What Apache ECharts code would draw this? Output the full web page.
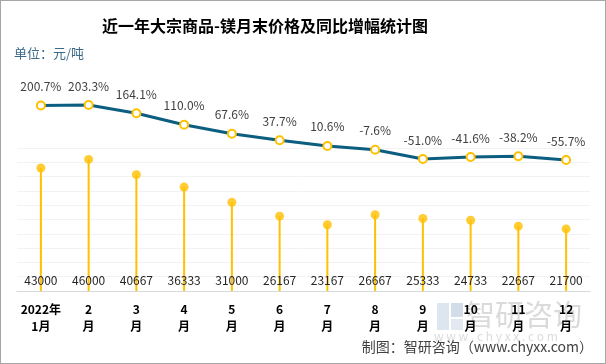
<!DOCTYPE html>
<html><head><meta charset="utf-8">
<script src="https://cdn.jsdelivr.net/npm/echarts@6/dist/echarts.min.js"></script>
<style>html,body{margin:0;padding:0;background:#fff}#c{width:606px;height:364px;box-sizing:border-box;border:1px solid #a6a6a6}</style>
</head><body><div id="c"></div><script>
const categories = ['2022年\n1月','2\n月','3\n月','4\n月','5\n月','6\n月','7\n月','8\n月','9\n月','10\n月','11\n月','12\n月'];
const prices = [43000,46000,40667,36333,31000,26167,23167,26667,25333,24733,22667,21700];
const growth = [200.7,203.3,164.1,110.0,67.6,37.7,10.6,-7.6,-51.0,-41.6,-38.2,-55.7];
const priceAxisMax = 50000, priceAxisInterval = 5000;

const FONT = '"Noto Sans CJK SC","Noto Sans",sans-serif';
const chart = echarts.init(document.getElementById('c'));
chart.setOption({
  animation: false,
  textStyle: {fontFamily: FONT},
  title: {
    text: '近一年大宗商品-镁月末价格及同比增幅统计图',
    left: 96, top: 12,
    textStyle: {fontSize: 16, fontWeight: 'bold', color: '#000', fontFamily: FONT}
  },
  graphic: [
    {type: 'text', left: 13, top: 46, style: {text: '单位：元/吨', fontSize: 13, fill: '#3a6a88', fontFamily: FONT}},
    {type: 'rect', shape: {x: 436, y: 302, width: 12, height: 27}, style: {fill: '#dde5ee'}, z: 0},
    {type: 'rect', shape: {x: 450, y: 302, width: 12, height: 14}, style: {fill: '#d3dde8'}, z: 0},
    {type: 'rect', shape: {x: 450, y: 318, width: 12, height: 11}, style: {fill: '#e3e9f0'}, z: 0},
    {type: 'text', left: 465, top: 299, z: 0, style: {text: '智研咨询', fontSize: 29, fill: '#dadada', fontFamily: FONT}},
    {type: 'text', left: 433, top: 329, z: 0, style: {text: 'w w w . c h y x x . c o m', fontSize: 12, fill: '#dcdcdc', fontFamily: FONT}},
    {type: 'text', right: 12, top: 339, style: {text: '制图：智研咨询（www.chyxx.com）', fontSize: 14, fill: '#404040', fontFamily: FONT}}
  ],
  grid: [
    {left: 16, right: 15, top: 147, bottom: 72},
    {left: 16, right: 15, top: 104, bottom: 203}
  ],
  xAxis: [
    {type: 'category', gridIndex: 0, data: categories,
      axisLine: {lineStyle: {color: '#d9d9d9', width: 1}}, axisTick: {show: false},
      axisLabel: {interval: 0, margin: 10, fontSize: 12, fontWeight: 'bold', color: '#000', lineHeight: 17, fontFamily: FONT}},
    {type: 'category', gridIndex: 1, data: categories, show: false}
  ],
  yAxis: [
    {type: 'value', gridIndex: 0, min: 0, max: priceAxisMax, interval: priceAxisInterval,
      axisLabel: {show: false}, axisLine: {show: false}, axisTick: {show: false},
      splitLine: {lineStyle: {color: '#f2f2f2', width: 1}}},
    {type: 'value', gridIndex: 1, min: 'dataMin', max: 'dataMax', show: false, splitLine: {show: false}}
  ],
  series: [
    {type: 'bar', xAxisIndex: 0, yAxisIndex: 0, data: prices, barWidth: 2,
      itemStyle: {color: '#FFC000'},
      label: {show: true, position: 'insideBottom', distance: 5, fontSize: 12, color: '#262626', fontFamily: FONT}},
    {type: 'scatter', xAxisIndex: 0, yAxisIndex: 0, data: prices, symbolSize: 9,
      itemStyle: {color: '#FFC000'}, z: 3},
    {type: 'line', xAxisIndex: 1, yAxisIndex: 1, data: growth, clip: false,
      symbol: 'emptyCircle', symbolSize: 8,
      lineStyle: {color: '#0b5e80', width: 3},
      itemStyle: {color: '#FFC000', borderWidth: 1.5},
      label: {show: true, position: 'top', distance: 8, fontSize: 12, color: '#404040', fontFamily: FONT,
        formatter: p => p.value.toFixed(1) + '%'}}
  ]
});
</script></body></html>
